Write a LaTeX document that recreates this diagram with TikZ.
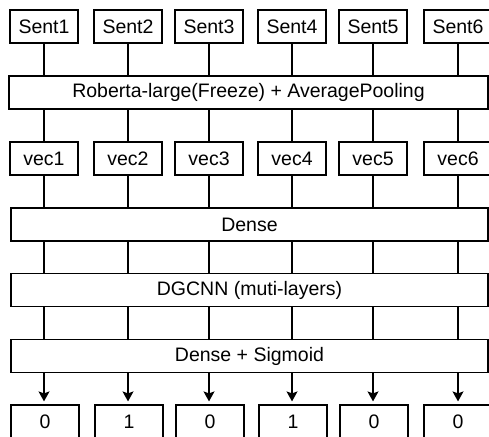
\documentclass[tikz,border=0pt]{standalone}
\usepackage{fontspec}
\setmainfont{Liberation Sans}
\usetikzlibrary{arrows.meta}
\begin{document}
\begin{tikzpicture}[x=1pt, y=-1pt, line width=1.2pt,
	cell/.style = {draw, minimum width = 68pt, minimum height = 33pt, inner sep = 0pt, font = \fontsize{19.5}{22}\selectfont},
	layer/.style = {draw, minimum height = 33pt, inner sep = 0pt, font = \fontsize{19.5}{22}\selectfont},
	tip/.style = {-{Stealth[length = 10pt, width = 11pt, inset = 2pt]}, shorten > = 3pt}]
	\useasboundingbox (0, 0) rectangle (489, 436);
	\node [cell] (s1) at ( 44, 26.5) {Sent1};
	\node [cell] (s2) at (128, 26.5) {Sent2};
	\node [cell] (s3) at (209, 26.5) {Sent3};
	\node [cell] (s4) at (292, 26.5) {Sent4};
	\node [cell] (s5) at (373, 26.5) {Sent5};
	\node [cell] (s6) at (458, 26.5) {Sent6};
	\node [layer, minimum width = 479pt] (rob) at (248.5, 92.5) {Roberta-large(Freeze) + AveragePooling};
	\node [cell] (v1) at ( 44, 158.5) {vec1};
	\node [cell] (v2) at (128, 158.5) {vec2};
	\node [cell] (v3) at (209, 158.5) {vec3};
	\node [cell] (v4) at (292, 158.5) {vec4};
	\node [cell] (v5) at (373, 158.5) {vec5};
	\node [cell] (v6) at (458, 158.5) {vec6};
	\node [layer, minimum width = 477pt] (dense) at (249.5, 224.5) {Dense};
	\node [layer, minimum width = 477pt] (gcn) at (249.5, 290) {DGCNN (muti-layers)};
	\node [layer, minimum width = 477pt] (sig) at (249.5, 356) {Dense + Sigmoid};
	\node [cell] (o1) at ( 45, 421.5) {0};
	\node [cell] (o2) at (129, 421.5) {1};
	\node [cell] (o3) at (210, 421.5) {0};
	\node [cell] (o4) at (293, 421.5) {1};
	\node [cell] (o5) at (374, 421.5) {0};
	\node [cell] (o6) at (458, 421.5) {0};
	\foreach \i in {1, ..., 6} {
		\draw (s\i) to (s\i |- rob.north);
		\draw (rob.south -| s\i) to (v\i);
		\draw (v\i) to (v\i |- dense.north);
		\draw (dense.south -| v\i) to (v\i |- gcn.north);
		\draw (gcn.south -| v\i) to (v\i |- sig.north);
		\draw [tip] (sig.south -| v\i) to (v\i |- o\i.north);
	}
\end{tikzpicture}
\end{document}
